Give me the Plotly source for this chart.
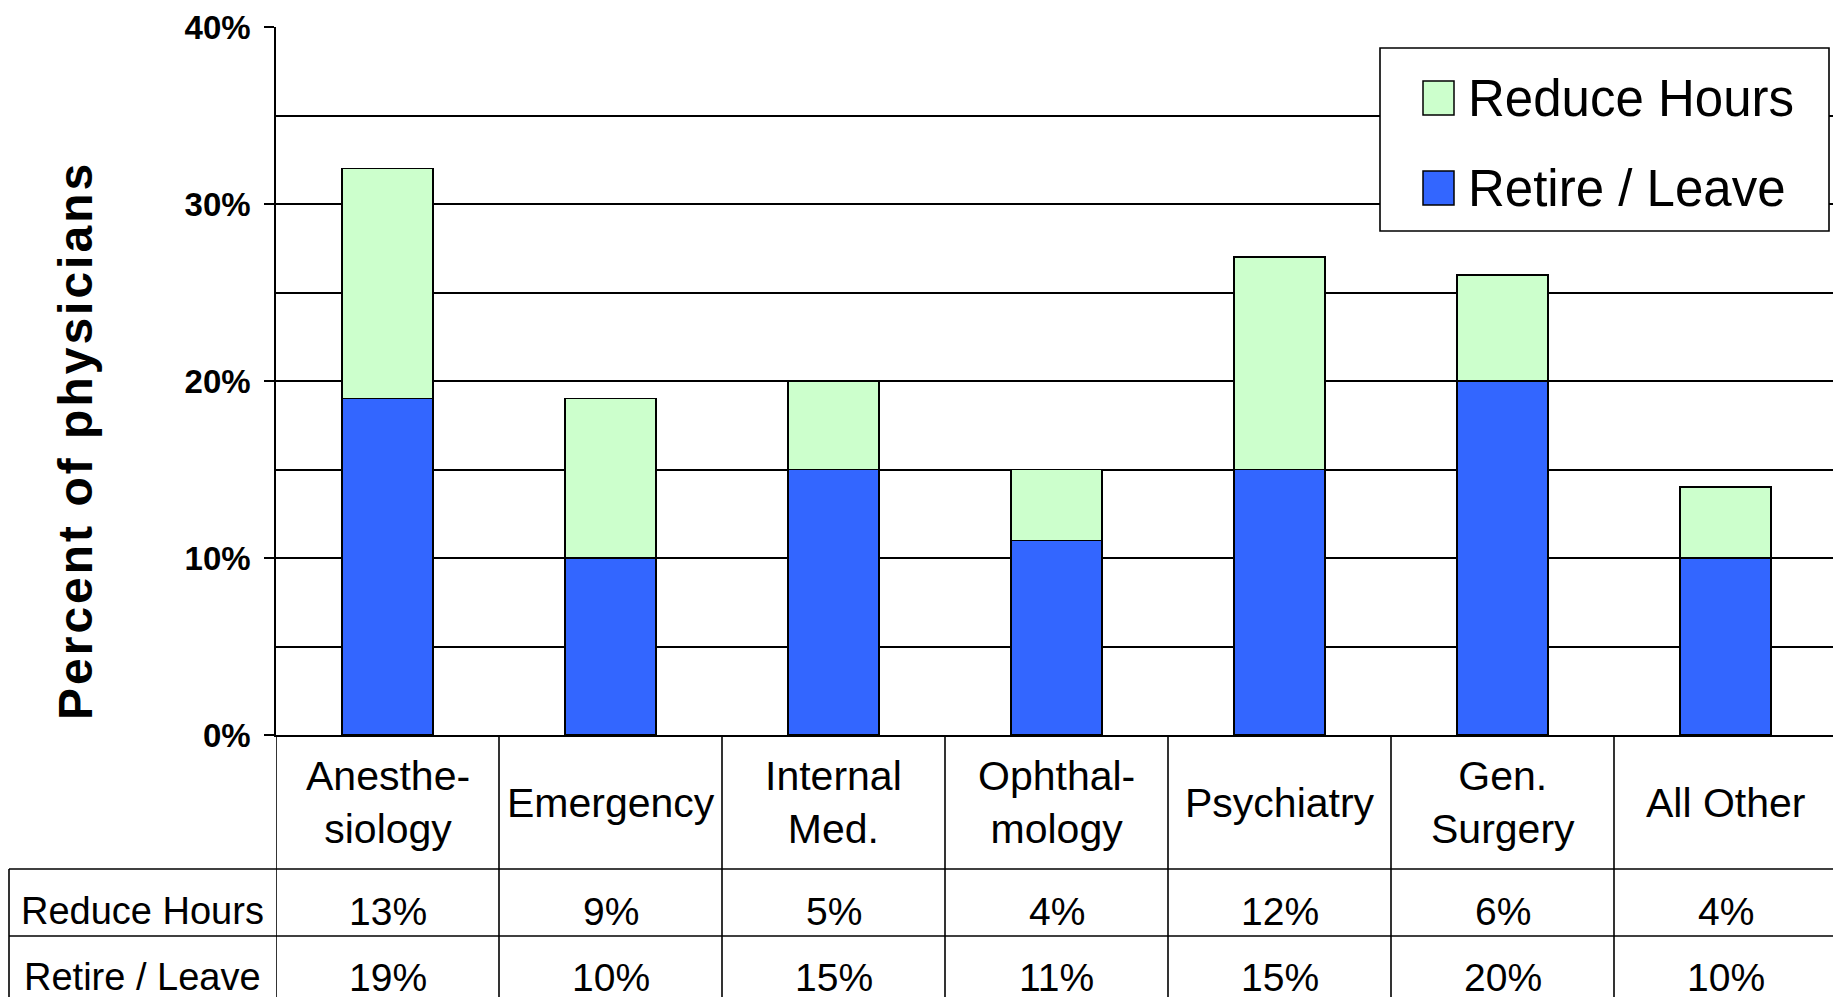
import plotly.graph_objects as go

# data
categories = ["Anesthesiology", "Emergency", "Internal Med.", "Ophthalmology",
              "Psychiatry", "Gen. Surgery", "All Other"]
category_labels = ["Anesthe-<br>siology", "Emergency", "Internal<br>Med.", "Ophthal-<br>mology",
                   "Psychiatry", "Gen.<br>Surgery", "All Other"]
retire_leave = [19, 10, 15, 11, 15, 20, 10]
reduce_hours = [13, 9, 5, 4, 12, 6, 4]
y_ticks = [0, 10, 20, 30, 40]

# page has an 8px body margin, so size the figure to fit the window
OFF = 8
W, H = 1841 - OFF, 997 - OFF
L, R, T, B = 276 - OFF, 4, 27 - OFF, 262
PW, PH = W - L - R, H - T - B


def px_x(px):
    # page pixel -> paper x
    return (px - OFF - L) / PW


def px_y(py):
    # page pixel -> paper y
    return (H - B - (py - OFF)) / PH


BLUE = "#3366FF"
GREEN = "#CCFFCC"
FONT = "Liberation Sans, Arial, sans-serif"

fig = go.Figure()
fig.add_trace(go.Bar(x=categories, y=retire_leave, name="Retire / Leave",
                     marker=dict(color=BLUE, line=dict(color="black", width=1.5)),
                     showlegend=False))
fig.add_trace(go.Bar(x=categories, y=reduce_hours, name="Reduce Hours",
                     marker=dict(color=GREEN, line=dict(color="black", width=1.5)),
                     showlegend=False))

fig.update_layout(
    width=W, height=H,
    margin=dict(l=L, r=R, t=T, b=B, autoexpand=False),
    barmode="stack", bargap=0.594,
    plot_bgcolor="white", paper_bgcolor="white",
    font=dict(family=FONT, color="black"),
)
fig.update_xaxes(range=[-0.5, 6.5], showticklabels=False, ticks="",
                 showline=True, linecolor="black", linewidth=1.6, showgrid=False,
                 zeroline=False)
fig.update_yaxes(range=[0, 40], tickvals=y_ticks, ticktext=[f"{v}%" for v in y_ticks],
                 ticks="outside", ticklen=10, tickcolor="black", tickwidth=1.6,
                 ticklabelstandoff=7,
                 tickfont=dict(family=FONT, size=33, weight="bold"),
                 showgrid=True, gridcolor="black", gridwidth=1.6,
                 minor=dict(dtick=5, showgrid=True, gridcolor="black", gridwidth=1.6, ticks=""),
                 showline=True, linecolor="black", linewidth=1.6, zeroline=False)

# y title
fig.add_annotation(x=px_x(75), y=px_y(441), xref="paper", yref="paper",
                   xanchor="center", yanchor="middle",
                   text='<span style="letter-spacing:3px">Percent of physicians</span>',
                   textangle=-90, showarrow=False,
                   font=dict(family=FONT, size=48, weight="bold"))

# data table below the chart
line = dict(color="black", width=1.6)
row_edges = [735, 869, 936, 1010]
left_edge = 9
shapes = []
for i in range(len(categories) + 1):
    shapes.append(dict(type="line", xref="x", yref="paper", x0=i - 0.5, x1=i - 0.5,
                       y0=0, y1=px_y(row_edges[-1]), line=line))
shapes.append(dict(type="line", xref="paper", yref="paper", x0=px_x(left_edge), x1=px_x(left_edge),
                   y0=px_y(row_edges[1]), y1=px_y(row_edges[-1]), line=line))
for ry in row_edges[1:3]:
    shapes.append(dict(type="line", xref="paper", yref="paper", x0=px_x(left_edge), x1=1,
                       y0=px_y(ry), y1=px_y(ry), line=line))

for cat, lab in zip(categories, category_labels):
    fig.add_annotation(x=cat, y=px_y(803), xref="x", yref="paper", text=lab, showarrow=False,
                       xanchor="center", yanchor="middle", font=dict(family=FONT, size=41))

rows = [("Reduce Hours", reduce_hours, 911), ("Retire / Leave", retire_leave, 977)]
for name, vals, cy in rows:
    fig.add_annotation(x=px_x((left_edge + 276) / 2), y=px_y(cy), xref="paper", yref="paper",
                       xanchor="center", yanchor="middle",
                       text=name, showarrow=False, font=dict(family=FONT, size=38))
    for cat, v in zip(categories, vals):
        fig.add_annotation(x=cat, y=px_y(cy), xref="x", yref="paper", text=f"{v}%",
                           xanchor="center", yanchor="middle",
                           showarrow=False, font=dict(family=FONT, size=39))

# legend box
shapes.append(dict(type="rect", xref="paper", yref="paper", x0=px_x(1380), x1=px_x(1829),
                   y0=px_y(231), y1=px_y(48), line=line, fillcolor="white", layer="above"))
legend_items = [("Reduce Hours", GREEN, 98), ("Retire / Leave", BLUE, 188)]
for name, col, cy in legend_items:
    shapes.append(dict(type="rect", xref="paper", yref="paper", x0=px_x(1423), x1=px_x(1454),
                       y0=px_y(cy + 17), y1=px_y(cy - 17), line=dict(color="black", width=1.5),
                       fillcolor=col, layer="above"))
    fig.add_annotation(x=px_x(1466), y=px_y(cy), xref="paper", yref="paper", text=name,
                       xanchor="left", yanchor="middle", showarrow=False,
                       font=dict(family=FONT, size=51))

fig.update_layout(shapes=shapes)
fig.write_html("out.html")
